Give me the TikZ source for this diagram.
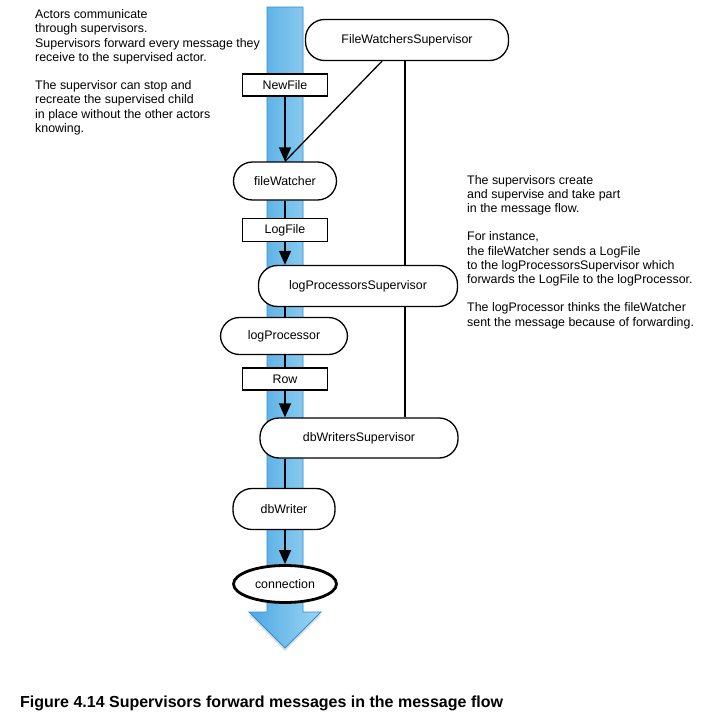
\documentclass[tikz,border=0pt]{standalone}
\usepackage{fontspec}
\setmainfont{Liberation Sans}
\usetikzlibrary{arrows.meta,shapes.geometric,shadows}
\definecolor{banddark}{HTML}{4EA8E2}
\definecolor{bandlight}{HTML}{9AD5F4}
\definecolor{bandedge}{HTML}{2E8FCD}
\begin{document}
\begin{tikzpicture}[x=1pt,y=-1pt,
  every node/.style={font=\fontsize{12.4}{14.2}\selectfont},
  actor/.style={draw, line width=1.3pt, fill=white, rounded corners=19pt, minimum height=40pt, inner sep=0pt},
  msgbox/.style={draw, line width=1.2pt, fill=white, minimum width=85pt, minimum height=22pt, inner sep=0pt},
  flow/.style={line width=1.5pt, -{Triangle[width=12pt,length=14pt]}},
  link/.style={line width=1.3pt},
  note/.style={align=left, anchor=north west, inner sep=0pt}
]
\useasboundingbox (0,0) rectangle (724,723);

% blue flow band
\path[draw=bandedge, line width=0.8pt, left color=banddark, right color=bandlight,
      drop shadow={shadow xshift=0pt, shadow yshift=-3pt, opacity=0.25}]
  (267,7) -- (303,7) -- (303,612) -- (321,612) -- (285,648) -- (249,612) -- (267,612) -- cycle;

% nodes
\node[actor, minimum width=203pt, minimum height=41pt] (fws) at (407,40) {FileWatchersSupervisor};
\node[msgbox] (newfile) at (285,85) {NewFile};
\node[actor, minimum width=103pt, minimum height=38pt] (fw) at (285,181) {fileWatcher};
\node[msgbox, minimum height=23pt] (logfile) at (285,230) {LogFile};
\node[actor, minimum width=199pt, minimum height=41pt] (lps) at (358,286) {logProcessorsSupervisor};
\node[actor, minimum width=127pt, minimum height=37pt] (lp) at (284,336) {logProcessor};
\node[msgbox] (row) at (285,379) {Row};
\node[actor, minimum width=198pt, minimum height=40pt] (dbws) at (359,438) {dbWritersSupervisor};
\node[actor, minimum width=102pt, minimum height=41pt] (dbw) at (284,509) {dbWriter};
\node[draw, ellipse, line width=2.8pt, fill=white, minimum width=103pt, minimum height=37pt, inner sep=0pt] (conn) at (285,584) {connection};

% supervisor links
\coordinate (v) at ([xshift=-2pt]fws.south);
\draw[link] ([xshift=-25pt]fws.south) -- (fw.north);
\draw[link] (v) -- (v |- lps.north);
\draw[link] (v |- lps.south) -- (v |- dbws.north);

% message flow
\draw[flow] (newfile.south) -- (fw.north);
\draw[link] (fw.south) -- (logfile.north);
\draw[flow] (logfile.south) -- (logfile.south |- lps.north);
\draw[link] (lps.south -| row.north) -- (lp.north -| row.north);
\draw[link] (lp.south -| row.north) -- (row.north);
\draw[flow] (row.south) -- (row.south |- dbws.north);
\draw[link] (dbws.south -| row.north) -- (dbw.north -| row.north);
\draw[flow] (dbw.south -| row.north) -- (conn.north);

% notes
\node[note] (n1) at (35,9.5) {Actors communicate\\through supervisors.\\Supervisors forward every message they\\receive to the supervised actor.\\[14.2pt]The supervisor can stop and\\recreate the supervised child\\in place without the other actors\\knowing.};
\node[note] (n2) at (467,175) {The supervisors create\\and supervise and take part\\in the message flow.\\[14.2pt]For instance,\\the fileWatcher sends a LogFile\\to the logProcessorsSupervisor which\\forwards the LogFile to the logProcessor.\\[14.2pt]The logProcessor thinks the fileWatcher\\sent the message because of forwarding.};

% caption
\node[anchor=base west, inner sep=0pt, font=\fontsize{16}{19}\selectfont\bfseries] (cap) at (20,707) {Figure 4.14 Supervisors forward messages in the message flow};
\end{tikzpicture}
\end{document}
